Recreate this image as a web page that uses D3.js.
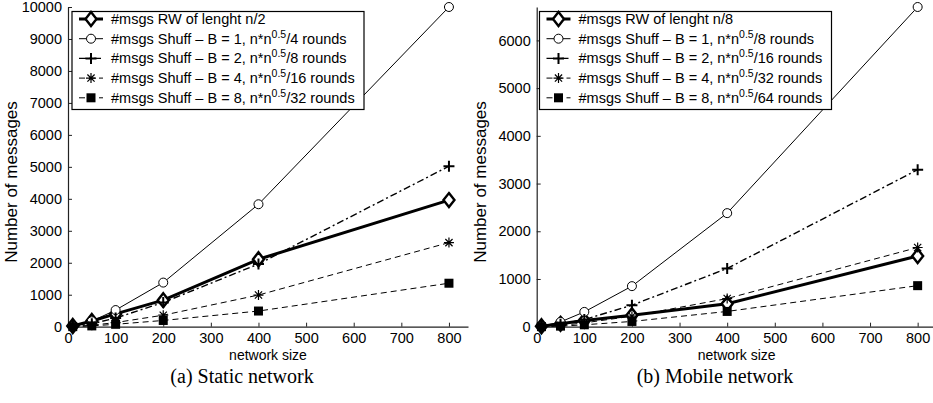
<!DOCTYPE html>
<html>
<head>
<meta charset="utf-8">
<script src="https://cdn.jsdelivr.net/npm/d3@7"></script>
<style>
  html, body { margin: 0; padding: 0; background: #fff; }
  svg { display: block; }
  text { font-family: "Liberation Sans", Arial, sans-serif; fill: #000; }
  .caption { font-family: "Liberation Serif", "Times New Roman", serif; }
</style>
</head>
<body>
<svg id="chart" width="933" height="403"></svg>
<script>
// Network sizes (x values shared by every series)
const networkSizes = [10, 50, 100, 200, 400, 800];

// Static network
const rwStatic = [20, 180, 400, 830, 2110, 3960];
const b1Static = [16, 170, 520, 1380, 3830, 10000];
const b2Static = [8, 90, 270, 760, 1960, 5020];
const b4Static = [4, 45, 130, 360, 990, 2630];
const b8Static = [2, 25, 75, 195, 490, 1360];

// Mobile network
const rwMobile = [10, 60, 130, 240, 480, 1480];
const b1Mobile = [10, 100, 310, 850, 2380, 6700];
const b2Mobile = [5, 50, 150, 450, 1220, 3290];
const b4Mobile = [3, 25, 80, 220, 590, 1660];
const b8Mobile = [1, 12, 40, 110, 320, 860];

// Tick labels
const xTicks = [0, 100, 200, 300, 400, 500, 600, 700, 800];
const yTicksStatic = [0, 1000, 2000, 3000, 4000, 5000, 6000, 7000, 8000, 9000, 10000];
const yTicksMobile = [0, 1000, 2000, 3000, 4000, 5000, 6000];

// Legend labels: [prefix, superscript, suffix]
const legendStatic = [
  ["#msgs RW of lenght n/2", "", ""],
  ["#msgs Shuff \u2013 B = 1, n*n", "0.5", "/4 rounds"],
  ["#msgs Shuff \u2013 B = 2, n*n", "0.5", "/8 rounds"],
  ["#msgs Shuff \u2013 B = 4, n*n", "0.5", "/16 rounds"],
  ["#msgs Shuff \u2013 B = 8, n*n", "0.5", "/32 rounds"]
];
const legendMobile = [
  ["#msgs RW of lenght n/8", "", ""],
  ["#msgs Shuff \u2013 B = 1, n*n", "0.5", "/8 rounds"],
  ["#msgs Shuff \u2013 B = 2, n*n", "0.5", "/16 rounds"],
  ["#msgs Shuff \u2013 B = 4, n*n", "0.5", "/32 rounds"],
  ["#msgs Shuff \u2013 B = 8, n*n", "0.5", "/64 rounds"]
];

const xLabel = "network size";
const yLabel = "Number of messages";

// Visual style of each series, in legend order
const styles = [
  { marker: "diamond", width: 3, dash: null },
  { marker: "circle", width: 1, dash: null },
  { marker: "plus", width: 1.4, dash: "7,3,2,3" },
  { marker: "star", width: 1, dash: "6,4" },
  { marker: "square", width: 1, dash: "6,4" }
];

const svg = d3.select("#chart");

function drawMarker(g, type, cx, cy) {
  const s = g.append("g").attr("transform", `translate(${cx},${cy})`);
  if (type === "diamond") {
    s.append("path").attr("d", "M0,-7L5.5,0L0,7L-5.5,0Z")
      .attr("fill", "#fff").attr("stroke", "#000").attr("stroke-width", 2.4);
  } else if (type === "circle") {
    s.append("circle").attr("r", 4.5).attr("fill", "#fff")
      .attr("stroke", "#000").attr("stroke-width", 1);
  } else if (type === "plus") {
    s.append("path").attr("d", "M-5.5,0H5.5M0,-5.5V5.5")
      .attr("stroke", "#000").attr("stroke-width", 2);
  } else if (type === "star") {
    s.append("path").attr("d", "M-5,0H5M0,-5V5M-3.6,-3.6L3.6,3.6M-3.6,3.6L3.6,-3.6")
      .attr("stroke", "#000").attr("stroke-width", 1.2);
  } else if (type === "square") {
    s.append("rect").attr("x", -4.5).attr("y", -4.5).attr("width", 9).attr("height", 9)
      .attr("fill", "#000");
  }
}

function panel(opts) {
  const { left, yMax, yTicks, series, legend, caption, captionX, legendX } = opts;
  const bottom = 326.7, top = 7;
  const x = d3.scaleLinear().domain([0, 840]).range([left, left + 400]);
  const y = d3.scaleLinear().domain([0, yMax]).range([bottom, top]);
  const g = svg.append("g");

  // Axes (ticks pointing inward)
  const fmt = d3.format("d");
  const xAxis = d3.axisBottom(x).tickValues(xTicks).tickFormat(fmt)
    .tickSizeInner(-4).tickSizeOuter(0).tickPadding(6);
  const yAxis = d3.axisLeft(y).tickValues(yTicks).tickFormat(fmt)
    .tickSizeInner(-4).tickSizeOuter(0).tickPadding(6);
  const gx = g.append("g").attr("transform", `translate(0,${bottom})`).call(xAxis);
  const gy = g.append("g").attr("transform", `translate(${left},0)`).call(yAxis);
  [gx, gy].forEach(a => {
    a.select(".domain").attr("stroke", "#222").attr("stroke-width", 1.2);
    a.selectAll(".tick line").attr("stroke", "#222");
    a.selectAll(".tick text").attr("font-size", 14.5).attr("fill", "#000")
      .attr("font-family", "Liberation Sans, Arial, sans-serif");
  });

  g.append("text").attr("x", left + 200).attr("y", 360).attr("text-anchor", "middle")
    .attr("font-size", 14).text(xLabel);
  g.append("text").attr("transform", `translate(${left - 51},182) rotate(-90)`)
    .attr("text-anchor", "middle").attr("font-size", 17).text(yLabel);

  // Series lines then markers
  const line = d3.line().x((d, i) => x(networkSizes[i])).y(d => y(d));
  series.forEach((vals, k) => {
    const st = styles[k];
    g.append("path").datum(vals).attr("d", line).attr("fill", "none")
      .attr("stroke", "#000").attr("stroke-width", st.width)
      .attr("stroke-dasharray", st.dash);
  });
  series.forEach((vals, k) => {
    vals.forEach((v, i) => drawMarker(g, styles[k].marker, x(networkSizes[i]), y(v)));
  });

  // Legend
  const lg = g.append("g");
  lg.append("rect").attr("x", legendX).attr("y", 11.5).attr("width", 292).attr("height", 98)
    .attr("fill", "#fff").attr("stroke", "#000").attr("stroke-width", 1.2);
  legend.forEach((lab, k) => {
    const cy = 19 + k * 19.7;
    const st = styles[k];
    lg.append("line").attr("x1", legendX + 7).attr("x2", legendX + 31).attr("y1", cy).attr("y2", cy)
      .attr("stroke", "#000").attr("stroke-width", st.width).attr("stroke-dasharray", st.dash);
    drawMarker(lg, st.marker, legendX + 19, cy);
    const t = lg.append("text").attr("x", legendX + 39).attr("y", cy + 5).attr("font-size", 14.5);
    t.append("tspan").text(lab[0]);
    if (lab[1]) {
      t.append("tspan").attr("dy", -6).attr("font-size", 10.5).text(lab[1]);
      t.append("tspan").attr("dy", 6).text(lab[2]);
    }
  });

  svg.append("text").attr("class", "caption").attr("x", captionX).attr("y", 383)
    .attr("text-anchor", "middle").attr("font-size", 20).text(caption);
}

panel({
  left: 68, yMax: 10000, yTicks: yTicksStatic,
  series: [rwStatic, b1Static, b2Static, b4Static, b8Static],
  legend: legendStatic, caption: "(a) Static network", captionX: 242, legendX: 72
});
panel({
  left: 536.7, yMax: 6700, yTicks: yTicksMobile,
  series: [rwMobile, b1Mobile, b2Mobile, b4Mobile, b8Mobile],
  legend: legendMobile, caption: "(b) Mobile network", captionX: 715, legendX: 539.5
});
</script>
</body>
</html>
